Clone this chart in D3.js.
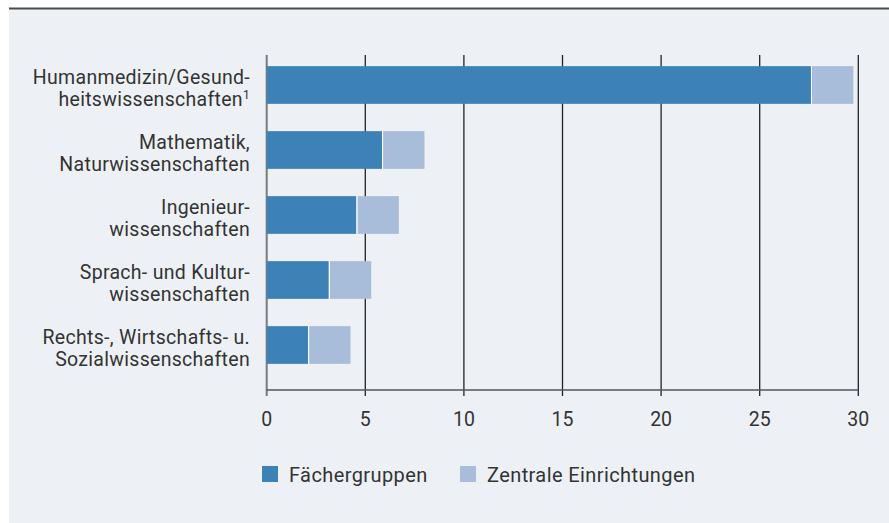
<!DOCTYPE html>
<html>
<head>
<meta charset="utf-8">
<script src="https://cdn.jsdelivr.net/npm/d3@7"></script>
<style>
  body { margin: 0; background: #fff; }
  svg { display: block; font-family: Roboto, "Noto Sans", sans-serif; }
</style>
</head>
<body>
<svg id="chart" width="889" height="523"></svg>
<script>
// categories, each as two label lines
const categories = [
    ["Humanmedizin/Gesund-", "heitswissenschaften"],
    ["Mathematik,", "Naturwissenschaften"],
    ["Ingenieur-", "wissenschaften"],
    ["Sprach- und Kultur-", "wissenschaften"],
    ["Rechts-, Wirtschafts- u.", "Sozialwissenschaften"]
];
const faecher = [27.6, 5.85, 4.55, 3.15, 2.1];
const zentral = [2.15, 2.15, 2.15, 2.15, 2.15];
const seriesNames = ["Fächergruppen", "Zentrale Einrichtungen"];
const colors = ["#3d82b6", "#a8bdda"];
const ticks = [0, 5, 10, 15, 20, 25, 30];

const svg = d3.select("#chart");
const W = 889, H = 523;

svg.append("rect").attr("x", 9).attr("y", 8).attr("width", W - 9).attr("height", H - 8)
    .attr("fill", "#edf1f5");
svg.append("line").attr("x1", 9).attr("x2", W).attr("y1", 8.5).attr("y2", 8.5)
    .attr("stroke", "#4a4a4a").attr("stroke-width", 2);

let x = d3.scaleLinear().domain([0, 30]).range([266.7, 858.3]);
let y = d3.scaleBand().domain(d3.range(categories.length))
    .range([52.5, 377.5]).paddingInner(0.42).paddingOuter(0.21);

// grid lines
svg.append("g")
    .selectAll("line")
    .data(ticks)
    .enter().append("line")
    .attr("x1", d => x(d)).attr("x2", d => x(d))
    .attr("y1", 55).attr("y2", 396)
    .attr("stroke", d => d === 0 ? "#7a7a7a" : "#222")
    .attr("stroke-width", d => d === 0 ? 2 : 1.3);

// axis line
svg.append("line").attr("x1", x(0)).attr("x2", x(30)).attr("y1", 390).attr("y2", 390)
    .attr("stroke", "#555").attr("stroke-width", 1.3);

svg.append("g")
    .selectAll("text")
    .data(ticks)
    .enter().append("text")
    .attr("x", d => x(d)).attr("y", 426)
    .attr("text-anchor", "middle")
    .attr("font-size", 19.5)
    .attr("fill", "#333")
    .text(d => d);

// bars
let rows = categories.map((c, i) => ({ i, a: faecher[i], b: zentral[i] }));
let bar = svg.append("g").selectAll("g").data(rows).enter().append("g");
bar.append("rect")
    .attr("x", x(0)).attr("y", d => y(d.i))
    .attr("width", d => x(d.a) - x(0)).attr("height", y.bandwidth())
    .attr("fill", colors[0]);
bar.append("rect")
    .attr("x", d => x(d.a) + 1).attr("y", d => y(d.i))
    .attr("width", d => x(d.a + d.b) - x(d.a) - 1).attr("height", y.bandwidth())
    .attr("fill", colors[1]);
bar.append("line")
    .attr("x1", d => x(d.a) + 0.5).attr("x2", d => x(d.a) + 0.5)
    .attr("y1", d => y(d.i)).attr("y2", d => y(d.i) + y.bandwidth())
    .attr("stroke", "#fff").attr("stroke-width", 1);

// category labels
let lab = svg.append("g").selectAll("text").data(categories).enter().append("text")
    .attr("text-anchor", "end")
    .attr("font-size", 19.5)
    .attr("letter-spacing", 0.3)
    .attr("fill", "#333");
lab.append("tspan")
    .attr("x", 250).attr("y", (d, i) => y(i) + y.bandwidth() / 2 - 1.5)
    .text(d => d[0]);
lab.append("tspan")
    .attr("x", 250).attr("y", (d, i) => y(i) + y.bandwidth() / 2 + 20.5)
    .text(d => d[1])
    .filter((d, i) => i === 0)
    .append("tspan").attr("font-size", 12).attr("dy", -7).text("1");

// legend
let leg = svg.append("g").selectAll("g").data(seriesNames).enter().append("g")
    .attr("transform", (d, i) => `translate(${[262, 460][i]},466)`);
leg.append("rect").attr("width", 16).attr("height", 16).attr("fill", (d, i) => colors[i]);
leg.append("text").attr("x", 27).attr("y", 16).attr("font-size", 20).attr("letter-spacing", 0.4)
    .attr("fill", "#333")
    .text(d => d);
</script>
</body>
</html>
